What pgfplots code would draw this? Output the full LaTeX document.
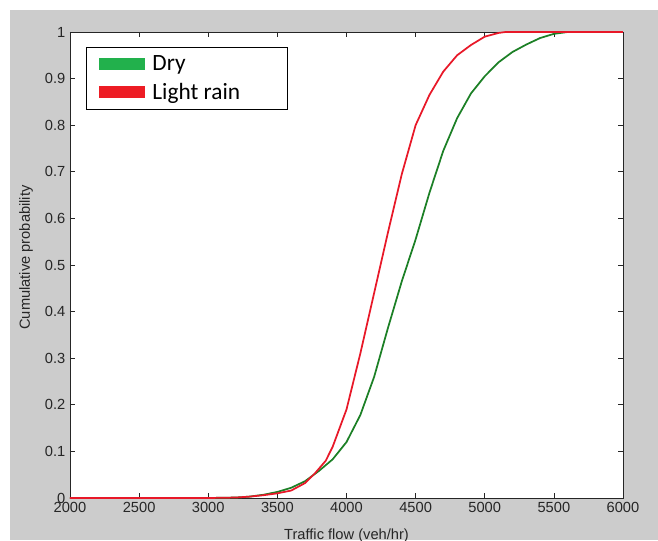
\documentclass[border=0pt]{standalone}
\usepackage{fontspec}
\setmainfont{Liberation Sans}
\newfontfamily\legfont{Carlito}
\usepackage{pgfplots}
\pgfplotsset{compat=1.18}
\definecolor{figgray}{RGB}{204,204,204}
\definecolor{dryline}{RGB}{28,128,38}
\definecolor{rainline}{RGB}{232,24,40}
\definecolor{drypatch}{RGB}{34,177,76}
\definecolor{rainpatch}{RGB}{237,28,36}
\begin{document}
\begin{tikzpicture}
\useasboundingbox (0,0) rectangle (493.5pt,405pt);
\fill[white] (0,0) rectangle (493.5pt,405pt);
\fill[figgray] (7.5pt,0) rectangle (493.5pt,397.5pt);
\begin{axis}[
    at={(52.5pt,31.5pt)}, anchor=south west,
    scale only axis, width=414.75pt, height=349.5pt,
    xmin=2000, xmax=6000, ymin=0, ymax=1,
    xtick={2000,2500,3000,3500,4000,4500,5000,5500,6000},
    ytick={0,0.1,0.2,0.3,0.4,0.5,0.6,0.7,0.8,0.9,1},
    yticklabels={0,0.1,0.2,0.3,0.4,0.5,0.6,0.7,0.8,0.9,1},
    /pgf/number format/1000 sep={},
    /pgf/number format/assume math mode=true,
    axis background/.style={fill=white},
    axis line style={line width=0.6pt, black!85},
    tick align=inside,
    major tick length=3.75pt,
    tick style={black!85, line width=0.5pt},
    ticklabel style={font=\fontsize{11}{13}\selectfont, text=black!85},
    xlabel={Traffic flow (veh/hr)},
    ylabel={Cumulative probability},
    xlabel style={at={(axis description cs:0.5,-0.066)}, anchor=north, inner sep=0pt,
        font=\fontsize{11}{13}\selectfont, text=black!85},
    ylabel style={at={(axis description cs:-0.0795,0.516)}, anchor=center, inner sep=0pt,
        font=\fontsize{11}{13}\selectfont, text=black!85},
    clip=false,
    legend cell align=left,
    legend style={at={(rel axis cs:0.029,0.968)}, anchor=north west,
        draw=black, line width=0.7pt, fill=white,
        font=\legfont\fontsize{17.5}{21}\selectfont,
        inner xsep=9pt, inner ysep=4pt, row sep=4pt},
]

% Dry
\addplot[dryline, line width=1.3pt, forget plot] coordinates {
(2000,0) (3000,0) (3200,0.001) (3300,0.003) (3400,0.007) (3500,0.013)
(3600,0.022) (3700,0.036) (3800,0.058) (3900,0.083) (4000,0.120)
(4100,0.178) (4200,0.260) (4300,0.365) (4400,0.465) (4500,0.555)
(4600,0.655) (4700,0.745) (4800,0.815) (4900,0.868) (5000,0.905)
(5100,0.935) (5200,0.957) (5300,0.973) (5400,0.987) (5500,0.996)
(5600,1) (6000,1)
};

% Light rain
\addplot[rainline, line width=1.3pt, forget plot] coordinates {
(2000,0) (3000,0) (3200,0.001) (3300,0.003) (3400,0.006) (3500,0.010)
(3600,0.016) (3700,0.032) (3772,0.053) (3850,0.080) (3900,0.110)
(4000,0.190) (4100,0.310) (4200,0.440) (4300,0.570) (4400,0.695)
(4500,0.800) (4600,0.865) (4700,0.915) (4800,0.950) (4900,0.972)
(5000,0.990) (5100,0.998) (5150,1) (6000,1)
};

\addlegendimage{legend image code/.code={\fill[drypatch] (0pt,-4.1pt) rectangle (33.75pt,4.1pt);}}
\addlegendentry{\hspace*{4pt}\makebox[90pt][l]{Dry}}
\addlegendimage{legend image code/.code={\fill[rainpatch] (0pt,-4.1pt) rectangle (33.75pt,4.1pt);}}
\addlegendentry{\hspace*{4pt}\makebox[90pt][l]{Light rain}}
\end{axis}
\end{tikzpicture}
\end{document}
